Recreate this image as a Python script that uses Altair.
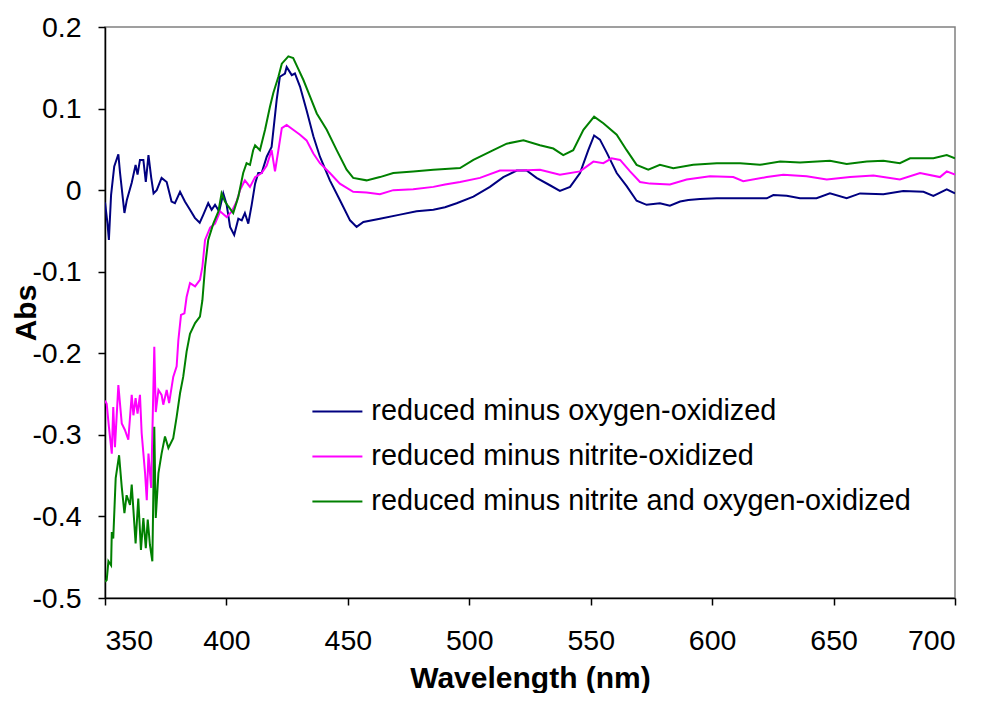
import altair as alt
import pandas as pd

series_names = [
    "reduced minus oxygen-oxidized",
    "reduced minus nitrite-oxidized",
    "reduced minus nitrite and oxygen-oxidized",
]
series_colors = ["#000080", "#FF00FF", "#008000"]

blue_nm = [350.0, 351.0, 351.6, 352.5, 353.8, 355.5, 356.2, 358.0, 359.0, 361.0, 362.6, 363.4, 364.4, 365.8,
           366.8, 367.9, 369.0, 370.0, 371.3, 373.3, 375.4, 377.4, 378.8, 380.9, 382.9, 385.0, 387.0, 389.0,
           390.5, 392.5, 393.9, 395.3, 397.0, 398.7, 400.1, 401.5, 403.2, 404.9, 406.3, 407.6, 409.0, 410.4,
           411.8, 413.1, 414.5, 416.6, 418.6, 420.7, 422.0, 424.1, 424.8, 426.9, 428.2, 430.3, 433.0, 435.8,
           438.5, 442.6, 446.7, 450.9, 453.6, 456.4, 463.2, 471.5, 478.3, 485.2, 490.0, 494.8, 501.7, 508.5,
           514.0, 519.5, 523.6, 527.7, 533.2, 537.3, 541.5, 545.6, 549.0, 551.4, 553.8, 556.6, 560.7, 564.8,
           568.9, 573.0, 578.5, 582.6, 586.8, 590.2, 595.0, 601.9, 608.7, 615.6, 622.5, 625.2, 630.7, 636.2,
           643.0, 648.5, 655.4, 660.9, 670.5, 678.7, 687.0, 691.1, 696.6, 700.0]
blue_abs = [-0.015, -0.040, -0.061, -0.006, 0.029, 0.044, 0.021, -0.028, -0.012, 0.009, 0.031, 0.019, 0.037, 0.037,
            0.010, 0.043, 0.016, -0.004, 0.000, 0.015, 0.010, -0.014, -0.016, -0.002, -0.014, -0.024, -0.034, -0.040,
            -0.030, -0.016, -0.024, -0.018, -0.026, -0.004, -0.018, -0.045, -0.055, -0.035, -0.037, -0.028, -0.041, -0.018,
            0.008, 0.021, 0.021, 0.041, 0.053, 0.111, 0.139, 0.143, 0.151, 0.141, 0.143, 0.127, 0.098, 0.066,
            0.041, 0.012, -0.012, -0.037, -0.045, -0.039, -0.035, -0.030, -0.026, -0.024, -0.021, -0.016, -0.008, 0.004,
            0.016, 0.024, 0.024, 0.015, 0.006, -0.001, 0.004, 0.021, 0.049, 0.067, 0.062, 0.046, 0.021, 0.005,
            -0.013, -0.018, -0.016, -0.019, -0.014, -0.012, -0.011, -0.010, -0.010, -0.010, -0.010, -0.006, -0.007, -0.010,
            -0.010, -0.004, -0.010, -0.004, -0.005, -0.001, -0.002, -0.007, 0.001, -0.004]

pink_nm = [350.0, 350.7, 351.6, 352.8, 353.4, 354.1, 355.5, 356.9, 358.2, 359.6, 361.0, 361.7, 362.6, 363.4,
           364.4, 365.1, 366.5, 367.2, 367.9, 369.0, 370.3, 370.9, 372.0, 373.3, 374.0, 375.4, 376.4, 378.1,
           379.5, 380.2, 381.3, 382.7, 383.6, 385.0, 387.1, 389.1, 390.1, 391.2, 393.3, 395.3, 397.4, 400.1,
           402.2, 404.2, 405.6, 407.6, 409.7, 411.8, 414.5, 416.6, 418.6, 420.0, 421.4, 422.8, 424.8, 427.5,
           430.3, 433.0, 435.8, 438.5, 442.6, 446.7, 452.2, 457.7, 463.2, 468.7, 476.9, 485.2, 490.0, 496.2,
           504.4, 512.6, 520.9, 529.1, 537.3, 545.6, 551.1, 555.2, 558.6, 562.1, 566.2, 570.3, 574.4, 582.6,
           589.5, 599.1, 608.7, 612.8, 622.5, 629.3, 638.9, 647.2, 656.8, 666.4, 677.3, 685.6, 693.8, 696.6, 700.0]
pink_abs = [-0.258, -0.262, -0.290, -0.323, -0.266, -0.315, -0.239, -0.286, -0.294, -0.306, -0.251, -0.276, -0.255, -0.274,
            -0.251, -0.298, -0.347, -0.380, -0.323, -0.365, -0.192, -0.272, -0.245, -0.251, -0.263, -0.245, -0.261, -0.229,
            -0.216, -0.184, -0.153, -0.151, -0.131, -0.114, -0.118, -0.110, -0.094, -0.061, -0.046, -0.041, -0.026, -0.033,
            -0.026, -0.014, 0.000, 0.012, 0.004, 0.016, 0.021, 0.030, 0.049, 0.023, 0.049, 0.076, 0.080, 0.074,
            0.068, 0.061, 0.045, 0.033, 0.021, 0.008, -0.002, -0.003, -0.005, 0.000, 0.001, 0.004, 0.007, 0.010,
            0.015, 0.024, 0.024, 0.025, 0.019, 0.023, 0.035, 0.033, 0.039, 0.037, 0.023, 0.010, 0.008, 0.007,
            0.013, 0.017, 0.016, 0.011, 0.016, 0.019, 0.017, 0.013, 0.016, 0.018, 0.013, 0.021, 0.016, 0.023, 0.019]

green_nm = [350.0, 350.7, 351.4, 352.5, 352.8, 353.4, 354.4, 355.8, 356.9, 358.0, 358.9, 360.3, 361.0, 361.7,
            362.6, 363.7, 364.8, 365.8, 366.8, 367.6, 368.5, 369.5, 370.3, 370.9, 372.0, 373.3, 374.7, 376.1,
            378.1, 379.5, 380.9, 382.2, 383.6, 385.0, 387.1, 389.1, 390.1, 391.2, 392.5, 394.6, 396.7, 398.0,
            399.4, 400.8, 402.8, 404.9, 406.9, 408.3, 409.7, 411.0, 411.8, 413.8, 415.9, 417.9, 419.3, 421.4,
            422.8, 425.5, 427.5, 428.9, 431.7, 434.4, 437.2, 441.3, 445.4, 449.5, 452.2, 457.7, 463.2, 468.7,
            476.9, 485.2, 490.0, 496.2, 501.7, 509.9, 515.4, 522.3, 529.1, 534.6, 538.7, 542.8, 547.0, 551.4,
            555.2, 560.7, 564.8, 568.9, 573.7, 578.5, 584.0, 592.2, 601.9, 611.5, 619.7, 628.0, 636.2, 648.5,
            655.4, 663.7, 670.5, 677.3, 681.5, 691.1, 696.6, 700.0]
green_abs = [-0.480, -0.478, -0.455, -0.460, -0.419, -0.427, -0.353, -0.325, -0.364, -0.396, -0.374, -0.386, -0.361, -0.392,
             -0.433, -0.378, -0.441, -0.402, -0.439, -0.404, -0.435, -0.455, -0.290, -0.402, -0.347, -0.323, -0.302, -0.316,
             -0.304, -0.278, -0.249, -0.229, -0.198, -0.176, -0.163, -0.155, -0.135, -0.094, -0.061, -0.041, -0.026, -0.004,
             -0.014, -0.020, -0.028, -0.008, 0.021, 0.033, 0.031, 0.049, 0.055, 0.049, 0.074, 0.102, 0.119, 0.139,
             0.155, 0.164, 0.162, 0.153, 0.135, 0.115, 0.094, 0.074, 0.049, 0.025, 0.015, 0.012, 0.016, 0.021,
             0.023, 0.025, 0.026, 0.027, 0.037, 0.049, 0.057, 0.061, 0.055, 0.051, 0.043, 0.049, 0.074, 0.090,
             0.082, 0.068, 0.049, 0.031, 0.025, 0.031, 0.027, 0.031, 0.033, 0.033, 0.031, 0.035, 0.034, 0.036,
             0.032, 0.035, 0.036, 0.033, 0.039, 0.039, 0.043, 0.039]

x_ticks = [350, 400, 450, 500, 550, 600, 650, 700]
y_ticks = [-0.5, -0.4, -0.3, -0.2, -0.1, 0.0, 0.1, 0.2]

frames = []
for name, xs, ys in [(series_names[0], blue_nm, blue_abs),
                     (series_names[1], pink_nm, pink_abs),
                     (series_names[2], green_nm, green_abs)]:
    frames.append(pd.DataFrame({"nm": xs, "abs": ys, "series": name}))
df = pd.concat(frames, ignore_index=True)

FONT = "Liberation Sans"

chart = alt.Chart(df).mark_line(strokeWidth=2, clip=True).encode(
    x=alt.X("nm:Q",
            scale=alt.Scale(domain=[350, 700], nice=False, zero=False),
            axis=alt.Axis(values=x_ticks, title="Wavelength (nm)", format="d",
                          labelPadding=21, titleX=425, titleY=89,
                          titleBaseline="alphabetic", titleAlign="center")),
    y=alt.Y("abs:Q",
            scale=alt.Scale(domain=[-0.5, 0.2], nice=False, zero=False),
            axis=alt.Axis(values=y_ticks, title="Abs", labelPadding=17,
                          labelExpr="datum.value == 0 ? '0' : (datum.value < 0 ? '-' + format(-datum.value, '.1f') : format(datum.value, '.1f'))",
                          titleX=-70, titleY=285.5, titleBaseline="alphabetic",
                          titleAlign="center", titleAngle=270)),
    color=alt.Color("series:N",
                    scale=alt.Scale(domain=series_names, range=series_colors),
                    sort=series_names,
                    legend=alt.Legend(orient="none", legendX=218, legendY=370, title=None,
                                      symbolType="M-2,0H2", symbolSize=625, symbolStrokeWidth=2,
                                      labelFont=FONT, labelFontSize=28.8, labelColor="black",
                                      labelOffset=19.5, rowPadding=15, padding=0, labelLimit=1000)),
    detail="series:N",
).properties(
    width=850,
    height=571,
    autosize=alt.AutoSizeParams(type="none"),
    padding={"left": 97, "top": 19, "right": 22, "bottom": 95},
).configure_view(
    stroke="#808080", strokeWidth=1.5
).configure_axis(
    grid=False,
    domainColor="black", domainWidth=1.5,
    tickColor="black", tickWidth=1.5, tickSize=7,
    labelFont=FONT, labelFontSize=28.5, labelColor="black",
    titleFont=FONT, titleFontSize=30, titleFontWeight="bold", titleColor="black",
)

chart.save("out.html", embed_options={"renderer": "svg", "actions": False})
